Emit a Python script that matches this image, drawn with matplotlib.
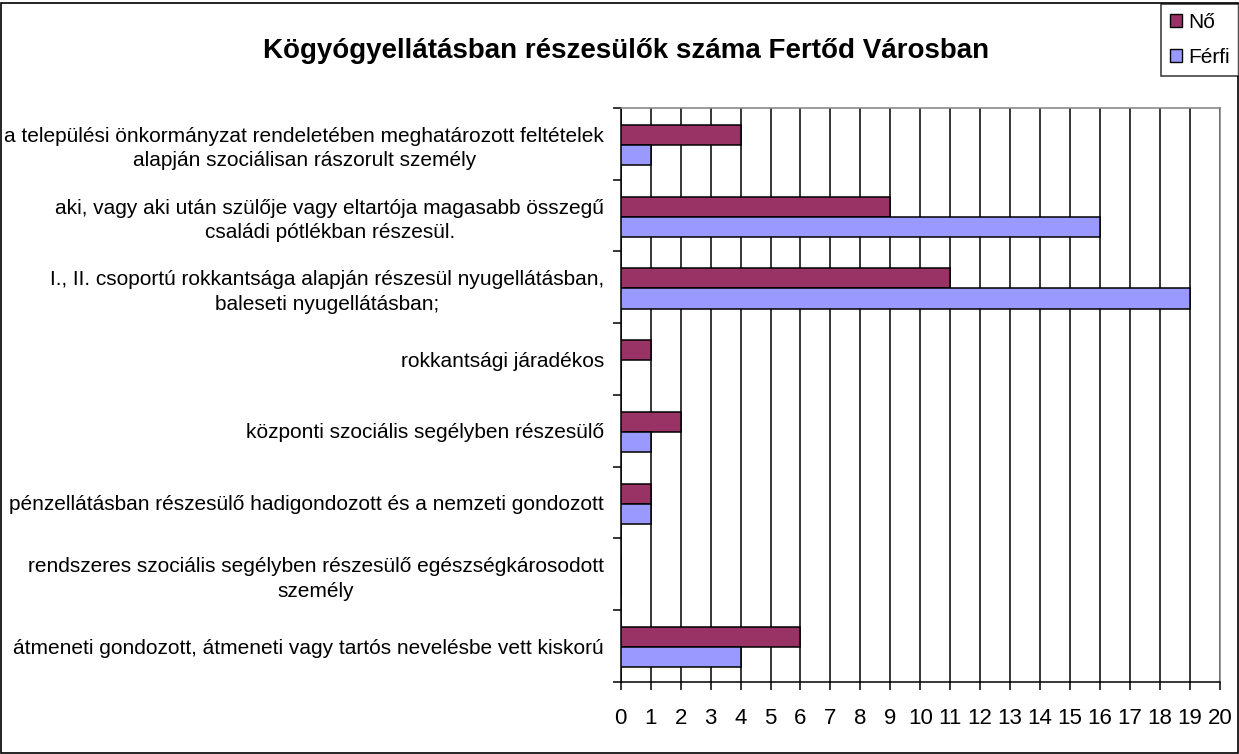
import numpy as np
import matplotlib.pyplot as plt
from matplotlib.patches import Patch, Rectangle

plt.rcParams['font.family'] = ['Liberation Sans', 'DejaVu Sans']

# Adatok
categories = [
    'a települési önkormányzat rendeletében meghatározott feltételek\nalapján szociálisan rászorult személy',
    'aki, vagy aki után szülője vagy eltartója magasabb összegű\ncsaládi pótlékban részesül.',
    'I., II. csoportú rokkantsága alapján részesül nyugellátásban,\nbaleseti nyugellátásban;',
    'rokkantsági járadékos',
    'központi szociális segélyben részesülő',
    'pénzellátásban részesülő hadigondozott és a nemzeti gondozott',
    'rendszeres szociális segélyben részesülő egészségkárosodott\nszemély',
    'átmeneti gondozott, átmeneti vagy tartós nevelésbe vett kiskorú',
]
no_values = [4, 9, 11, 1, 2, 1, 0, 6]
ferfi_values = [1, 16, 19, 0, 1, 1, 0, 4]
x_ticks = list(range(0, 21))

# Figura
fig = plt.figure(figsize=(12.39, 7.54), dpi=100)
fig.patches.append(Rectangle((0.0008, 0.001), 0.998, 0.995, transform=fig.transFigure,
                             fill=False, edgecolor='black', linewidth=1.2))

ax = fig.add_axes([0.501, 0.0955, 0.4835, 0.7613])

y = np.arange(len(categories)) + 0.5
h = 0.28
ax.barh(y - h / 2 + 0.015, no_values, height=h, color='#993366',
        edgecolor='black', linewidth=1.1, zorder=3, label='Nő')
ax.barh(y + h / 2 + 0.015, ferfi_values, height=h, color='#9999FF',
        edgecolor='black', linewidth=1.1, zorder=3, label='Férfi')

ax.set_xlim(0, 20)
ax.set_ylim(len(categories), 0)

# Tengelyek
ax.set_xticks(x_ticks)
ax.set_xticklabels([str(t) for t in x_ticks], fontsize=16)
ax.tick_params(axis='x', direction='out', length=6, width=1.1, pad=13)
ax.set_yticks(y)
ax.set_yticklabels(categories, fontsize=15, multialignment='center',
                   linespacing=1.35)
ax.tick_params(axis='y', which='major', length=0, pad=12)
ax.set_yticks(np.arange(len(categories) + 1), minor=True)
ax.tick_params(axis='y', which='minor', direction='out', length=6, width=1.1)

ax.grid(axis='x', color='black', linewidth=1.1, zorder=0)
ax.set_axisbelow(True)
for s in ['left', 'bottom']:
    ax.spines[s].set_color('black')
    ax.spines[s].set_linewidth(1.1)
for s in ['top', 'right']:
    ax.spines[s].set_color('#808080')
    ax.spines[s].set_linewidth(1.1)

# Cím
fig.text(0.505, 0.932, 'Kögyógyellátásban részesülők száma Fertőd Városban',
         ha='center', va='center', fontsize=20, fontweight='bold')

# Jelmagyarázat
handles = [Patch(facecolor='#993366', edgecolor='black'),
           Patch(facecolor='#9999FF', edgecolor='black')]
leg = fig.legend(handles, ['Nő', 'Férfi'], loc='upper right',
                 bbox_to_anchor=(1.0, 0.995), fontsize=15, frameon=True,
                 fancybox=False, handlelength=0.55, handleheight=0.55,
                 handletextpad=0.3, labelspacing=0.75, borderpad=0.45,
                 borderaxespad=0)
leg.get_frame().set_edgecolor('black')
leg.get_frame().set_linewidth(1.1)

fig.savefig('out.png', dpi=100)
